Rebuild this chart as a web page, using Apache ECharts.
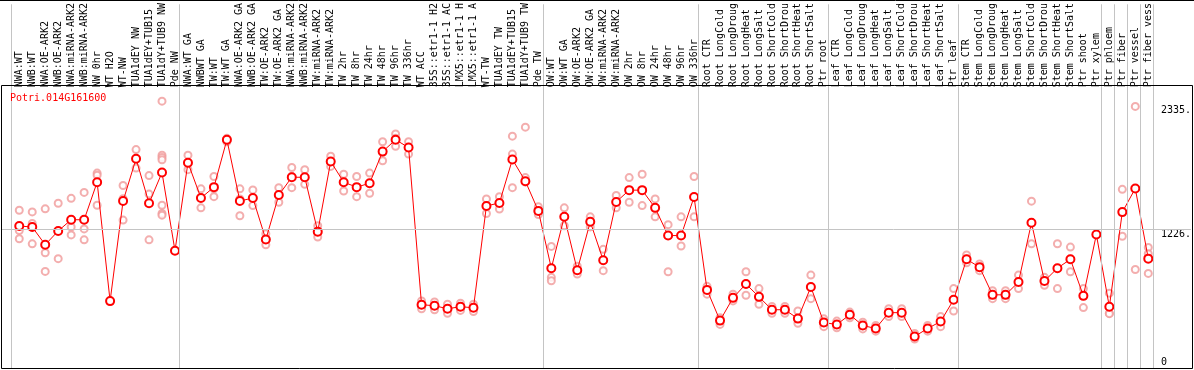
<!DOCTYPE html>
<html><head><meta charset="utf-8">
<script src="https://cdn.jsdelivr.net/npm/echarts@6/dist/echarts.min.js"></script>
<style>html,body{margin:0;padding:0;background:#fff}#c{width:1194px;height:370px}</style>
</head><body><div id="c"></div><script>
const geneId = 'Potri.014G161600';

const categories = [
'NWA:WT','NWB:WT','NWA:OE-ARK2','NWB:OE-ARK2','NWA:miRNA-ARK2','NWB:miRNA-ARK2','NW 0hr','WT H2O','WT-NW','TUA1dEY NW','TUA1dEY+TUB15','TUA1dY+TUB9 NW','Pde NW',
'NWA:WT GA','NWBWT GA','TW:WT','TW:WT GA','NWA:OE-ARK2 GA','NWB:OE-ARK2 GA','TW:OE-ARK2','TW:OE-ARK2 GA','NWA:miRNA-ARK2','NWB:miRNA-ARK2','TW:miRNA-ARK2','TW:miRNA-ARK2','TW 2hr','TW 8hr','TW 24hr','TW 48hr','TW 96hr','TW 336hr','WT ACC','35S::etr1-1 H2','35S::etr1-1 AC','LMX5::etr1-1 H','LMX5::etr1-1 A','WT-TW','TUA1dEY TW','TUA1dEY+TUB15','TUA1dY+TUB9 TW','Pde TW',
'OW:WT','OW:WT GA','OW:OE-ARK2','OW:OE-ARK2 GA','OW:miRNA-ARK2','OW:miRNA-ARK2','OW 2hr','OW 8hr','OW 24hr','OW 48hr','OW 96hr','OW 336hr',
'Root CTR','Root LongCold','Root LongDroug','Root LongHeat','Root LongSalt','Root ShortCold','Root ShortDrou','Root ShortHeat','Root ShortSalt','Ptr root',
'Leaf CTR','Leaf LongCold','Leaf LongDroug','Leaf LongHeat','Leaf LongSalt','Leaf ShortCold','Leaf ShortDrou','Leaf ShortHeat','Leaf ShortSalt','Ptr leaf',
'Stem CTR','Stem LongCold','Stem LongDroug','Stem LongHeat','Stem LongSalt','Stem ShortCold','Stem ShortDrou','Stem ShortHeat','Stem ShortSalt','Ptr shoot','Ptr xylem',
'Ptr phloem','Ptr fiber','Ptr vessel','Ptr fiber vess'
];

const meanValues = [
1258,1249,1091,1214,1314,1314,1649,588,1481,1858,1461,1735,1038,
1823,1508,1605,2028,1481,1508,1138,1534,1693,1693,1208,1834,1649,1605,1640,1922,2028,1958,556,547,520,538,529,1437,1464,1852,1658,1393,
882,1340,864,1296,952,1473,1578,1578,1420,1173,1173,1517,
688,414,617,741,626,511,511,432,714,397,
379,467,370,344,485,485,273,344,406,600,
961,891,644,644,758,1287,767,882,961,635,1182,
538,1382,1593,967
];

const replicateValues = [
[1399,1217,1144],[1384,1281,1099],[1411,1020,853],[1461,967],[1505,1249,1179],[1558,1232,1135],[1730,1712,1443],[588],[1620,1502,1311],[1940,1775],[1708,1543,1135],[2372,1890,1870,1849,1443,1370,1355],[1038],
[1890,1761,1820],[1590,1510,1420],[1700,1590,1520],[2040,2010,2030],[1590,1500,1350],[1580,1510,1440],[1190,1140,1090],[1600,1530,1470],[1780,1700,1600],[1760,1690,1630],[1260,1200,1160],[1880,1830,1790],[1720,1650,1570],[1700,1600,1520],[1730,1640,1550],[2010,1920,1840],[2080,2040,1970],[2010,1960,1900],[590,556,520],[580,547,510],[560,520,480],[570,538,505],[560,529,495],[1500,1440,1370],[1520,1464,1410],[2060,1900,1600],[2140,1690,1650],[1430,1393,1360],
[1076,800,770],[1420,1340,1260],[900,864,830],[1340,1296,1250],[1050,952,860],[1530,1473,1420],[1690,1578,1470],[1720,1578,1440],[1500,1420,1340],[1270,1173,850],[1340,1173,1080],[1700,1517,1340],
[720,688,650],[440,414,380],[650,617,590],[850,741,640],[700,626,560],[540,511,480],[540,511,480],[500,432,390],[820,714,610],[430,397,360],
[410,379,350],[490,467,440],[400,370,340],[370,344,320],[520,485,450],[520,485,450],[300,273,250],[370,344,320],[450,406,360],[700,600,500],
[1000,961,930],[920,891,860],[680,644,610],[680,644,610],[820,758,700],[1480,1287,1100],[800,767,730],[1100,882,700],[1070,961,850],[700,635,530],[1182],
[659,479,476],[1585,1167],[2325,870],[1067,1011,835]
];

// indices after which a group separator line is drawn (-1 = before the first)
const groupEnds = [-1,12,40,52,62,72,83,84,85,86,87];
const yTickValues = [0,1226,2335];
const midlineValue = 1226;

const MONO = 'DejaVu Sans Mono';
const chart = echarts.init(document.getElementById('c'), null, {renderer:'canvas'});

const xMin = -1.4073, xMax = 90.285;
const yMin = -17.64, yMax = 3236.3;

const repData = [];
replicateValues.forEach((arr,i)=>arr.forEach(v=>repData.push([i,v])));
const meanData = meanValues.map((v,i)=>[i,v]);

const option = {
  animation:false,
  backgroundColor:'#ffffff',
  title:{text:geneId,left:10,top:93,padding:0,
    textStyle:{color:'#ff0000',fontSize:10,fontFamily:MONO,fontWeight:'normal'}},
  grid:{left:1,right:1,top:0,bottom:1,containLabel:false},
  xAxis:{type:'value',min:xMin,max:xMax,position:'top',offset:-85,
    axisLine:{show:false},axisTick:{show:false},splitLine:{show:false},
    axisLabel:{customValues:categories.map((_,i)=>i),formatter:v=>categories[Math.round(v)],
      rotate:90,margin:2,fontFamily:MONO,fontSize:10,color:'#000'}},
  yAxis:[
    {type:'value',min:yMin,max:yMax,position:'right',
     axisLine:{show:false},axisTick:{show:false},splitLine:{show:false},
     axisLabel:{inside:true,customValues:yTickValues.filter(v=>v>0),formatter:v=>v+'.',
       align:'left',verticalAlign:'top',margin:30,fontFamily:MONO,fontSize:10,color:'#000'}},
    {type:'value',min:yMin,max:yMax,position:'right',
     axisLine:{show:false},axisTick:{show:false},splitLine:{show:false},
     axisLabel:{inside:true,customValues:yTickValues.filter(v=>v===0),formatter:v=>String(v),
       align:'left',verticalAlign:'bottom',margin:30,fontFamily:MONO,fontSize:10,color:'#000'}}
  ],
  series:[
    {type:'scatter',name:'guides',data:[],z:1,silent:true,
     markLine:{silent:true,symbol:'none',label:{show:false},animation:false,
       lineStyle:{color:'#c4c4c4',type:'solid',width:1},
       data:[{yAxis:midlineValue}].concat(groupEnds.map(e=>({xAxis:e+0.36})))}},
    {type:'scatter',name:'replicates',data:repData,z:2,symbol:'emptyCircle',symbolSize:7,
     itemStyle:{color:'#f09a9a',borderColor:'#f09a9a',borderWidth:1}},
    {type:'line',name:'mean',data:meanData,z:3,symbol:'emptyCircle',symbolSize:8,showSymbol:true,
     lineStyle:{color:'#ff0000',width:1},itemStyle:{color:'#ff0000',borderColor:'#ff0000',borderWidth:1.3}}
  ],
  graphic:[
    {type:'rect',shape:{x:1.5,y:85.5,width:1191,height:283},style:{fill:null,stroke:'#000',lineWidth:1},silent:true,z:10},
    {type:'line',shape:{x1:0,y1:0.5,x2:1194,y2:0.5},style:{stroke:'#000',lineWidth:1},silent:true,z:10}
  ]
};
chart.setOption(option);
</script></body></html>
